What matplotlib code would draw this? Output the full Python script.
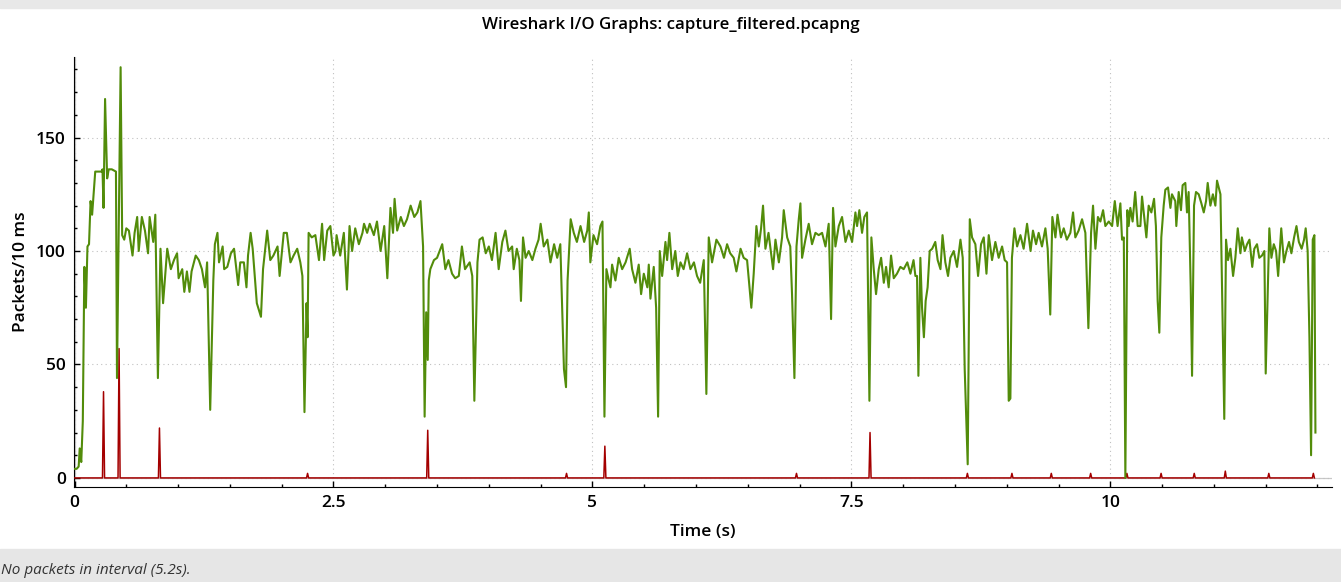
import numpy as np
import matplotlib
matplotlib.use("Agg")
from matplotlib import pyplot as plt
from matplotlib.ticker import MultipleLocator

plt.rcParams['font.family'] = ['Open Sans', 'DejaVu Sans']

# all packets (time in s, packets per 10 ms)
all_t = [0.0, 0.02, 0.04, 0.05, 0.065, 0.08, 0.095, 0.11, 0.125, 0.14, 0.155, 0.17, 0.2, 0.23, 0.26, 0.27, 0.28, 0.295, 0.315, 0.33,
         0.36, 0.4, 0.41, 0.445, 0.46, 0.48, 0.5, 0.525, 0.56, 0.58, 0.605, 0.62, 0.65, 0.68, 0.71, 0.725, 0.76, 0.78, 0.805, 0.83,
         0.855, 0.88, 0.895, 0.93, 0.96, 0.99, 1.005, 1.04, 1.06, 1.085, 1.11, 1.13, 1.17, 1.2, 1.23, 1.26, 1.28, 1.31, 1.34, 1.355,
         1.38, 1.395, 1.43, 1.445, 1.475, 1.51, 1.54, 1.555, 1.58, 1.6, 1.635, 1.66, 1.675, 1.7, 1.72, 1.76, 1.8, 1.82, 1.86, 1.89,
         1.92, 1.96, 1.98, 2.02, 2.05, 2.085, 2.115, 2.15, 2.18, 2.2, 2.22, 2.24, 2.25, 2.26, 2.29, 2.325, 2.36, 2.39, 2.41, 2.44,
         2.47, 2.5, 2.52, 2.53, 2.565, 2.6, 2.63, 2.655, 2.68, 2.71, 2.745, 2.78, 2.795, 2.825, 2.85, 2.89, 2.92, 2.955, 2.99, 3.02,
         3.05, 3.075, 3.09, 3.115, 3.15, 3.18, 3.21, 3.245, 3.28, 3.31, 3.34, 3.365, 3.38, 3.395, 3.41, 3.42, 3.435, 3.47, 3.5, 3.55,
         3.58, 3.61, 3.645, 3.675, 3.71, 3.74, 3.77, 3.815, 3.84, 3.86, 3.89, 3.91, 3.94, 3.97, 4.0, 4.03, 4.065, 4.095, 4.13, 4.16,
         4.19, 4.225, 4.24, 4.27, 4.295, 4.31, 4.33, 4.355, 4.385, 4.42, 4.45, 4.48, 4.5, 4.53, 4.565, 4.595, 4.63, 4.66, 4.69, 4.725,
         4.745, 4.76, 4.79, 4.82, 4.85, 4.885, 4.92, 4.95, 4.965, 4.98, 5.01, 5.045, 5.077, 5.097, 5.116, 5.135, 5.158, 5.174, 5.19, 5.222,
         5.254, 5.287, 5.32, 5.36, 5.383, 5.415, 5.447, 5.47, 5.496, 5.53, 5.544, 5.56, 5.592, 5.615, 5.634, 5.65, 5.673, 5.705, 5.721, 5.743,
         5.77, 5.8, 5.824, 5.85, 5.88, 5.914, 5.946, 5.98, 6.01, 6.04, 6.075, 6.1, 6.123, 6.155, 6.197, 6.236, 6.27, 6.3, 6.33, 6.364,
         6.39, 6.43, 6.46, 6.493, 6.518, 6.534, 6.557, 6.583, 6.606, 6.628, 6.647, 6.67, 6.7, 6.744, 6.767, 6.8, 6.831, 6.847, 6.88, 6.91,
         6.927, 6.95, 6.97, 6.992, 7.008, 7.024, 7.056, 7.088, 7.12, 7.153, 7.185, 7.217, 7.25, 7.281, 7.304, 7.323, 7.346, 7.378, 7.41, 7.443,
         7.475, 7.507, 7.539, 7.555, 7.577, 7.603, 7.625, 7.651, 7.674, 7.693, 7.716, 7.738, 7.764, 7.787, 7.813, 7.835, 7.86, 7.883, 7.909, 7.94,
         7.973, 8.005, 8.04, 8.07, 8.1, 8.118, 8.134, 8.147, 8.166, 8.182, 8.2, 8.217, 8.236, 8.256, 8.28, 8.31, 8.333, 8.36, 8.38, 8.407,
         8.433, 8.456, 8.488, 8.52, 8.553, 8.575, 8.594, 8.623, 8.643, 8.665, 8.697, 8.723, 8.752, 8.778, 8.804, 8.826, 8.858, 8.89, 8.922, 8.955,
         8.98, 9.003, 9.019, 9.035, 9.05, 9.074, 9.1, 9.132, 9.163, 9.196, 9.23, 9.253, 9.283, 9.308, 9.34, 9.373, 9.395, 9.42, 9.44, 9.47,
         9.49, 9.523, 9.55, 9.58, 9.614, 9.64, 9.662, 9.694, 9.727, 9.759, 9.788, 9.814, 9.833, 9.856, 9.88, 9.904, 9.93, 9.952, 9.985, 10.017,
         10.043, 10.07, 10.097, 10.113, 10.13, 10.145, 10.164, 10.177, 10.193, 10.215, 10.24, 10.264, 10.29, 10.306, 10.332, 10.348, 10.37, 10.396, 10.422, 10.44,
         10.457, 10.473, 10.492, 10.515, 10.531, 10.557, 10.58, 10.595, 10.627, 10.637, 10.66, 10.682, 10.698, 10.724, 10.74, 10.756, 10.776, 10.789, 10.808, 10.827,
         10.853, 10.879, 10.902, 10.924, 10.94, 10.966, 10.99, 11.014, 11.03, 11.063, 11.085, 11.1, 11.117, 11.136, 11.159, 11.185, 11.207, 11.23, 11.256, 11.27,
         11.298, 11.32, 11.343, 11.37, 11.39, 11.416, 11.438, 11.464, 11.487, 11.5, 11.52, 11.535, 11.555, 11.578, 11.6, 11.62, 11.65, 11.676, 11.7, 11.725,
         11.748, 11.774, 11.797, 11.82, 11.847, 11.87, 11.886, 11.905, 11.922, 11.938, 11.954, 11.97, 11.98]
all_pkts = [4, 4, 5, 13, 7, 25, 93, 75, 102, 103, 122, 116, 135, 135, 135, 136, 119, 167, 132, 136,
            136, 135, 44, 181, 107, 105, 110, 109, 98, 108, 115, 100, 115, 109, 99, 115, 104, 116, 44, 101,
            77, 92, 101, 92, 96, 99, 88, 92, 82, 91, 82, 91, 98, 96, 92, 84, 95, 30, 87, 103,
            108, 95, 102, 92, 93, 99, 101, 95, 85, 95, 95, 84, 98, 108, 101, 77, 71, 92, 109, 96,
            98, 102, 89, 108, 108, 95, 98, 101, 95, 89, 29, 77, 62, 108, 106, 107, 96, 112, 96, 109,
            111, 98, 100, 107, 98, 108, 83, 111, 100, 110, 103, 108, 112, 108, 112, 107, 113, 100, 111, 88,
            119, 108, 123, 109, 115, 111, 114, 120, 115, 117, 122, 102, 27, 73, 52, 87, 92, 96, 97, 103,
            92, 96, 90, 88, 89, 102, 92, 95, 89, 34, 95, 105, 106, 99, 102, 96, 108, 92, 104, 109,
            100, 102, 92, 101, 96, 78, 106, 97, 100, 96, 101, 105, 112, 102, 105, 95, 103, 97, 103, 48,
            40, 87, 114, 108, 104, 111, 104, 109, 117, 95, 107, 103, 111, 113, 27, 92, 87, 84, 94, 87,
            97, 92, 95, 101, 92, 86, 94, 81, 90, 84, 94, 79, 93, 75, 27, 100, 89, 104, 96, 108,
            92, 100, 89, 95, 92, 99, 92, 95, 89, 86, 96, 37, 106, 95, 105, 102, 97, 103, 99, 97,
            91, 101, 97, 96, 83, 75, 90, 111, 102, 110, 120, 101, 108, 92, 105, 95, 106, 118, 106, 102,
            81, 44, 102, 114, 121, 97, 105, 112, 103, 108, 107, 108, 102, 112, 70, 119, 102, 111, 115, 104,
            109, 104, 117, 111, 118, 108, 115, 117, 34, 106, 92, 81, 92, 97, 86, 93, 84, 98, 88, 90,
            93, 92, 95, 90, 96, 89, 89, 45, 97, 75, 62, 78, 84, 100, 101, 104, 96, 92, 107, 95,
            89, 97, 100, 93, 105, 97, 48, 6, 114, 106, 103, 89, 103, 106, 90, 107, 96, 104, 97, 102,
            96, 95, 34, 35, 97, 110, 102, 107, 101, 112, 100, 109, 103, 108, 102, 110, 101, 72, 115, 106,
            116, 106, 110, 105, 108, 117, 106, 109, 114, 108, 66, 108, 120, 101, 115, 113, 118, 111, 113, 111,
            122, 111, 121, 105, 106, 0, 118, 111, 119, 113, 126, 111, 111, 124, 113, 106, 120, 117, 123, 111,
            78, 64, 106, 120, 127, 128, 119, 125, 122, 111, 126, 118, 129, 130, 117, 126, 84, 45, 120, 126,
            125, 121, 117, 122, 130, 120, 125, 120, 131, 125, 67, 26, 105, 96, 101, 89, 97, 110, 99, 106,
            100, 103, 105, 93, 101, 103, 97, 98, 100, 46, 82, 110, 97, 103, 100, 89, 110, 95, 100, 104,
            99, 106, 111, 104, 101, 105, 110, 100, 62, 10, 105, 107, 20]

# second graph: spikes only, zero elsewhere
spike_t = [0.28, 0.43, 0.82, 2.25, 3.41, 4.75, 5.12, 6.97, 7.68, 8.62, 9.05, 9.43, 9.81, 10.16, 10.49, 10.81, 11.11, 11.53, 11.96]
spike_pkts = [38, 57, 22, 2, 21, 2, 14, 2, 20, 2, 2, 2, 2, 2, 2, 2, 3, 2, 2]

bins = np.round(np.arange(0, 11.98, 0.01), 2)
second = np.zeros(len(bins))
for t, v in zip(spike_t, spike_pkts):
    second[int(round(t / 0.01))] = v

fig = plt.figure(figsize=(13.41, 5.82), dpi=100)
fig.patches.append(plt.Rectangle((0, 1 - 8 / 582), 1, 8 / 582, transform=fig.transFigure, color="#e8e8e8", zorder=0))
fig.patches.append(plt.Rectangle((0, 0), 1, 33 / 582, transform=fig.transFigure, color="#e6e6e6", zorder=0))

ax = fig.add_axes([74 / 1341, 1 - 487 / 582, (1332 - 74) / 1341, (487 - 57) / 582])
ax.axhline(0, color="#c8c8c8", lw=0.9, zorder=1)
ax.axvline(0, color="#c8c8c8", lw=0.9, zorder=1)
ax.plot(bins, second, color="#a40000", lw=1.1, zorder=3)
ax.plot(all_t, all_pkts, color="#528c0a", lw=1.5, zorder=4)

ax.set_xlim(-0.005, 12.14)
ax.set_ylim(-4, 185.5)
ax.xaxis.set_major_locator(MultipleLocator(2.5))
ax.xaxis.set_minor_locator(MultipleLocator(0.5))
ax.yaxis.set_major_locator(MultipleLocator(50))
ax.yaxis.set_minor_locator(MultipleLocator(10))
ax.set_xticks([0, 2.5, 5, 7.5, 10])
ax.set_xticklabels(["0", "2.5", "5", "7.5", "10"])
ax.grid(True, which="major", color="#c0c0c0", linestyle=(0, (1, 3)), lw=0.8)
for s in ["top", "right"]:
    ax.spines[s].set_visible(False)
ax.tick_params(which="major", direction="in", length=4, width=1, labelsize=12.5, pad=6)
ax.tick_params(which="minor", direction="in", length=2.5, width=1)
for lab in ax.get_xticklabels() + ax.get_yticklabels():
    lab.set_fontweight("semibold")

ax.set_xlabel("Time (s)", fontsize=12.5, fontweight="semibold", labelpad=9)
ax.set_ylabel("Packets/10 ms", fontsize=12.5, fontweight="semibold", labelpad=5)
fig.text(0.5, 1 - 25 / 582, "Wireshark I/O Graphs: capture_filtered.pcapng", ha="center", va="center",
         fontsize=12.2, fontweight="semibold")
fig.text(0.001, 1 - 571 / 582, "No packets in interval (5.2s).", ha="left", va="center",
         fontsize=11, style="italic", color="#333333")

plt.savefig("out.png", dpi=100)
